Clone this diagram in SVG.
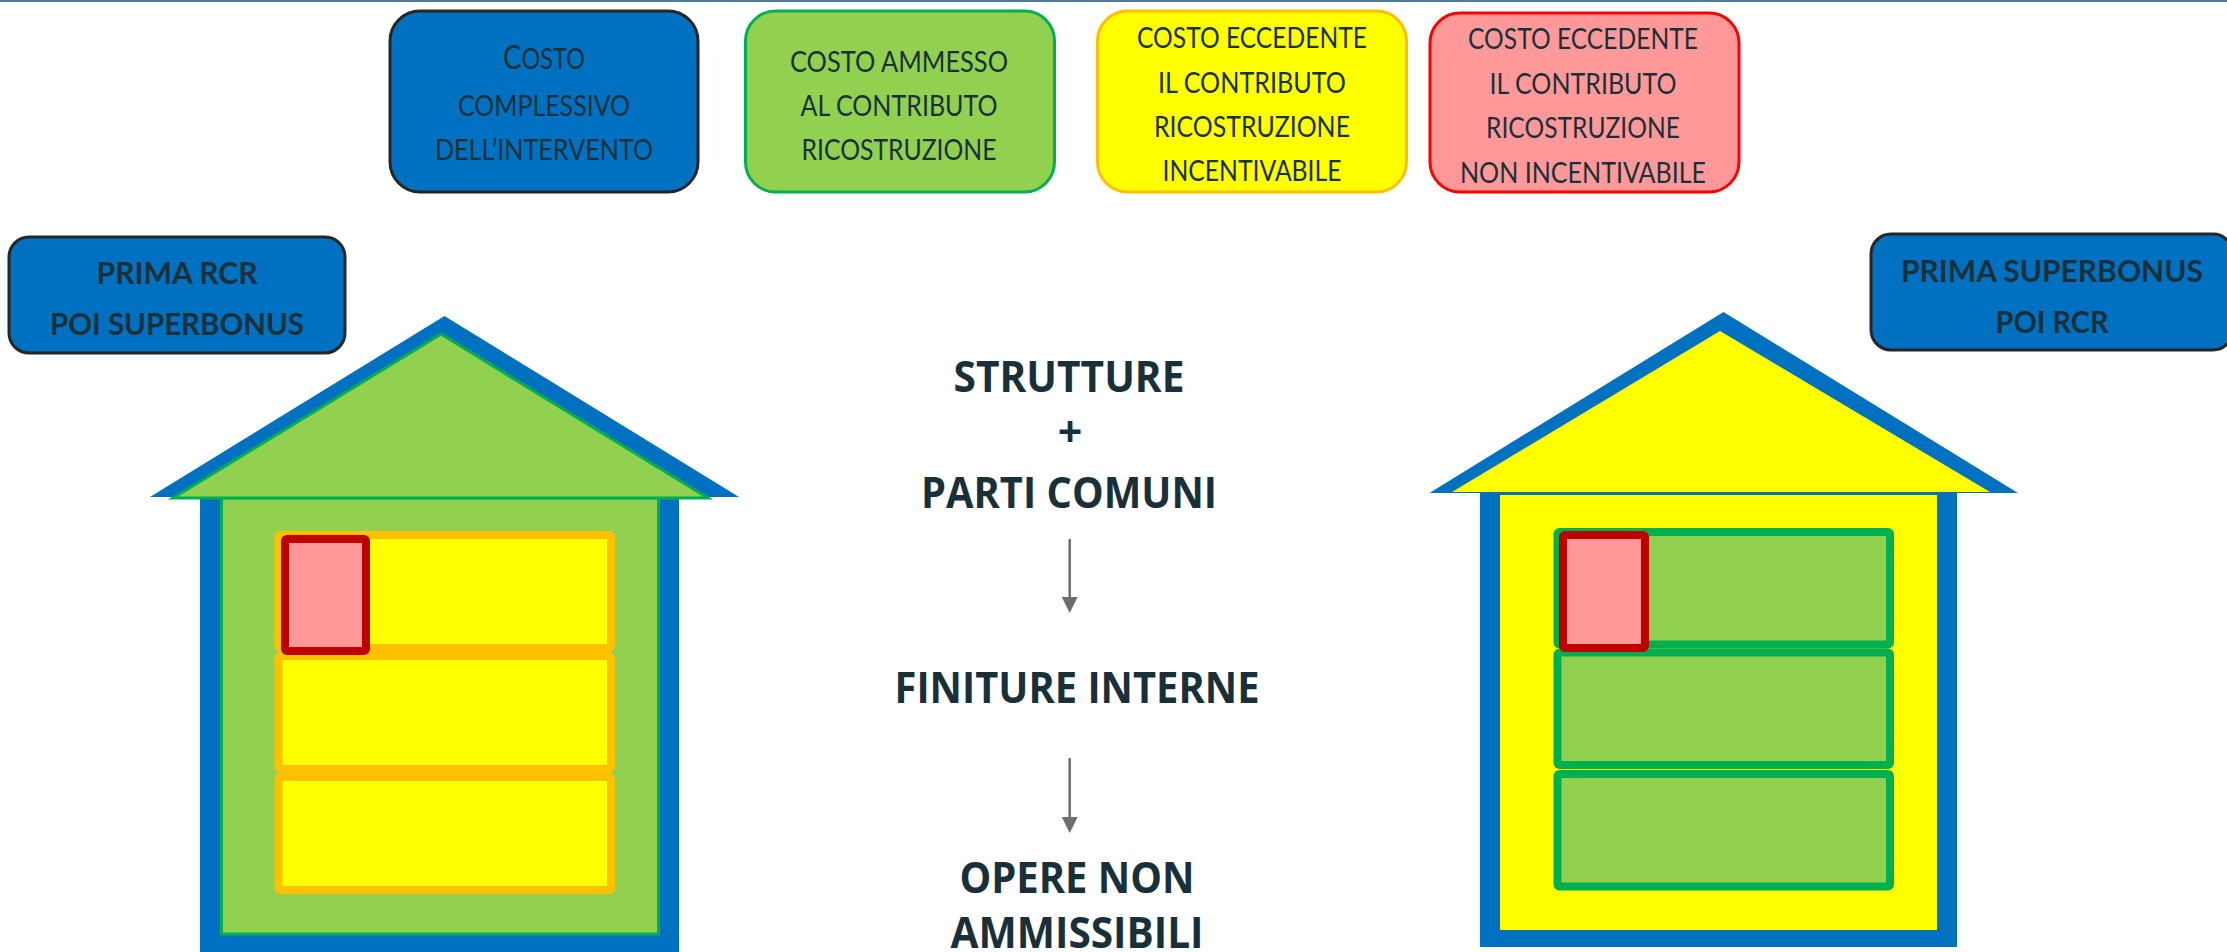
<svg xmlns="http://www.w3.org/2000/svg" width="2227" height="952" viewBox="0 0 2227 952">
<style>
text{font-family:"Open Sans","Liberation Sans",sans-serif;fill:#1a3039;text-anchor:middle}
.s{font-family:Lato,"Open Sans",sans-serif;font-size:28px}
.l{font-family:Lato,"Open Sans",sans-serif;font-size:31px;font-weight:700}
.c{font-size:43px;font-weight:700}
.box{stroke-width:3}
.blue{fill:#0070C0}
.lg{fill:#92D050}
.yl{fill:#FFFF00}
.pk{fill:#FF9999}
.dark{stroke:#262626}
.room{stroke-width:8}
.roomY{fill:#FFFF00;stroke:#FFC000}
.roomG{fill:#92D050;stroke:#00B050}
.red{fill:#FF9999;stroke:#C00000;stroke-width:8}
.arrow{stroke:#6D6E71;stroke-width:2.5;fill:none;marker-end:url(#head)}
</style>
<defs>
<marker id="head" markerUnits="userSpaceOnUse" markerWidth="16" markerHeight="16" refX="0" refY="8" orient="auto" viewBox="0 0 16 16"><path d="M0,0L16,8L0,16Z" fill="#6D6E71"/></marker>
</defs>
<rect width="2227" height="952" fill="#fff"/>
<rect id="top-rule" width="2227" height="2" fill="#527A97"/>

<g id="legend-costo">
<rect class="box blue dark" x="390" y="11" width="308" height="181" rx="30"/>
<text class="s" x="544" y="69" textLength="82" lengthAdjust="spacingAndGlyphs"><tspan font-size="33">C</tspan>OSTO</text>
<text class="s" x="544" y="116" textLength="172" lengthAdjust="spacingAndGlyphs">COMPLESSIVO</text>
<text class="s" x="544" y="160" textLength="218" lengthAdjust="spacingAndGlyphs">DELL’INTERVENTO</text>
</g>
<g id="legend-ammesso">
<rect class="box lg" stroke="#00B050" x="745.5" y="11" width="309" height="181" rx="30"/>
<text class="s" x="899" y="72" textLength="218" lengthAdjust="spacingAndGlyphs">COSTO AMMESSO</text>
<text class="s" x="899" y="116" textLength="197" lengthAdjust="spacingAndGlyphs">AL CONTRIBUTO</text>
<text class="s" x="899" y="160" textLength="195" lengthAdjust="spacingAndGlyphs">RICOSTRUZIONE</text>
</g>
<g id="legend-incentivabile">
<rect class="box yl" stroke="#FFC000" x="1097.5" y="11" width="309" height="181" rx="30"/>
<text class="s" x="1252" y="48" textLength="230" lengthAdjust="spacingAndGlyphs">COSTO ECCEDENTE</text>
<text class="s" x="1252" y="93" textLength="188" lengthAdjust="spacingAndGlyphs">IL CONTRIBUTO</text>
<text class="s" x="1252" y="137" textLength="196" lengthAdjust="spacingAndGlyphs">RICOSTRUZIONE</text>
<text class="s" x="1252" y="181" textLength="179" lengthAdjust="spacingAndGlyphs">INCENTIVABILE</text>
</g>
<g id="legend-non-incentivabile">
<rect class="box pk" stroke="#FF0000" x="1430" y="13" width="309" height="179" rx="30"/>
<text class="s" x="1583" y="49" textLength="230" lengthAdjust="spacingAndGlyphs">COSTO ECCEDENTE</text>
<text class="s" x="1583" y="94" textLength="187" lengthAdjust="spacingAndGlyphs">IL CONTRIBUTO</text>
<text class="s" x="1583" y="138" textLength="194" lengthAdjust="spacingAndGlyphs">RICOSTRUZIONE</text>
<text class="s" x="1583" y="183" textLength="246" lengthAdjust="spacingAndGlyphs">NON INCENTIVABILE</text>
</g>

<g id="label-prima-rcr">
<rect class="box blue dark" x="9" y="237" width="336" height="116" rx="20"/>
<text class="l" x="177" y="284" textLength="161" lengthAdjust="spacingAndGlyphs">PRIMA RCR</text>
<text class="l" x="177" y="335" textLength="254" lengthAdjust="spacingAndGlyphs">POI SUPERBONUS</text>
</g>
<g id="label-prima-superbonus">
<rect class="box blue dark" x="1871" y="234" width="362" height="116" rx="20"/>
<text class="l" x="2052" y="282" textLength="302" lengthAdjust="spacingAndGlyphs">PRIMA SUPERBONUS</text>
<text class="l" x="2052" y="333" textLength="113" lengthAdjust="spacingAndGlyphs">POI RCR</text>
</g>

<g id="house-left">
<rect class="blue" x="200" y="496" width="479" height="456"/>
<polygon class="blue" points="444.5,316 739,497 150,497"/>
<rect class="lg" stroke="#00B050" stroke-width="3" x="221.5" y="498" width="437" height="436"/>
<polygon class="lg" stroke="#00B050" stroke-width="3" points="441,334 708,498 173,498"/>
<rect class="room roomY" x="278.5" y="535" width="332.500" height="113" rx="2"/>
<rect class="room roomY" x="278.500" y="656" width="332.500" height="113" rx="2"/>
<rect class="room roomY" x="278.500" y="777" width="332.500" height="113" rx="2"/>
<rect class="red" x="285" y="539" width="81" height="112" rx="2"/>
</g>

<g id="house-right">
<rect class="blue" x="1480" y="492" width="477" height="455"/>
<polygon class="blue" points="1723.500,312 2018,493 1429.500,493"/>
<polygon class="yl" points="1720,331 1990,492 1452,492"/>
<rect class="yl" x="1500" y="495" width="437" height="435"/>
<rect class="room roomG" x="1557.500" y="532" width="332.500" height="112.500" rx="2"/>
<rect class="room roomG" x="1557.500" y="652.500" width="332.500" height="112.500" rx="2"/>
<rect class="room roomG" x="1557.500" y="774" width="332.500" height="112.500" rx="2"/>
<rect class="red" x="1563" y="535" width="82" height="113" rx="2"/>
</g>

<g id="step-strutture">
<text class="c" x="1069" y="392" textLength="231" lengthAdjust="spacingAndGlyphs">STRUTTURE</text>
<text class="c" x="1070" y="447">+</text>
<text class="c" x="1069" y="508" textLength="296" lengthAdjust="spacingAndGlyphs">PARTI COMUNI</text>
</g>
<g id="step-finiture">
<text class="c" x="1077" y="703" textLength="365" lengthAdjust="spacingAndGlyphs">FINITURE INTERNE</text>
</g>
<g id="step-opere">
<text class="c" x="1077" y="893" textLength="235" lengthAdjust="spacingAndGlyphs">OPERE NON</text>
<text class="c" x="1077" y="948" textLength="253" lengthAdjust="spacingAndGlyphs">AMMISSIBILI</text>
</g>

<g id="connectors">
<line class="arrow" x1="1069.700" y1="539" x2="1069.700" y2="597"/>
<line class="arrow" x1="1069.700" y1="758" x2="1069.700" y2="817"/>
</g>
</svg>
